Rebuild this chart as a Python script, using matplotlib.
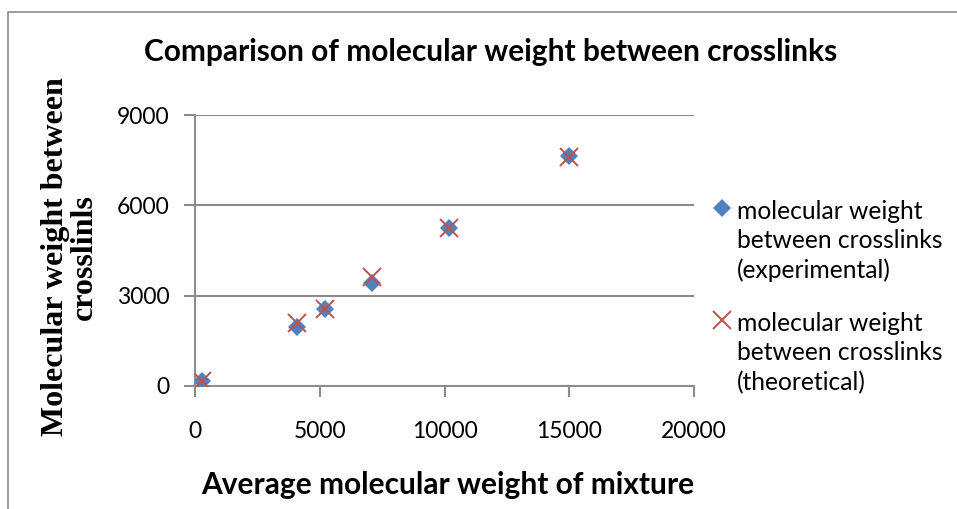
import matplotlib.pyplot as plt
from matplotlib.lines import Line2D
from matplotlib.patches import Rectangle

plt.rcParams['font.family'] = ['Lato', 'DejaVu Sans']

# average molecular weight of mixture vs Mc
mix_mw = [300, 4100, 5200, 7100, 10200, 15000]
mc_exp = [170, 1970, 2550, 3430, 5240, 7640]
mc_theo = [170, 2080, 2550, 3630, 5240, 7590]

exp_label = 'molecular weight\nbetween crosslinks\n(experimental)'
theo_label = 'molecular weight\nbetween crosslinks\n(theoretical)'

blue = '#4F81BD'
red = '#C0504D'
grey = '#8C8C8C'

W, H = 957, 509
fig = plt.figure(figsize=(W / 100, H / 100), dpi=100)
ax = fig.add_axes([195 / W, 1 - 386 / H, (694 - 195) / W, (386 - 115) / H])

diamond = dict(marker='D', markersize=9.5, color=blue, markeredgewidth=0)
cross = dict(marker='x', markersize=13, color=red, markeredgewidth=1.4)

ax.plot(mix_mw, mc_exp, linestyle='none', zorder=3, **diamond)
ax.plot(mix_mw, mc_theo, linestyle='none', zorder=4, **cross)

ax.set_xlim(0, 20000)
ax.set_ylim(0, 9000)
ax.set_xticks([0, 5000, 10000, 15000, 20000])
ax.set_yticks([0, 3000, 6000, 9000])
ax.yaxis.grid(True, color=grey, linewidth=1.5)
ax.set_axisbelow(True)
for s in ['top', 'right']:
    ax.spines[s].set_visible(False)
for s in ['left', 'bottom']:
    ax.spines[s].set_color(grey)
    ax.spines[s].set_linewidth(1.5)
ax.tick_params(axis='both', direction='out', length=8, width=1.5, color=grey,
               labelsize=16.5)
ax.tick_params(axis='y', pad=10.5)
ax.tick_params(axis='x', pad=17)

fig.text(491 / W, 1 - 52 / H, 'Comparison of molecular weight between crosslinks',
         ha='center', va='center', fontsize=21.5, fontweight='bold')
fig.text(448 / W, 1 - 485 / H, 'Average molecular weight of mixture',
         ha='center', va='center', fontsize=21.5, fontweight='bold')
fig.text(70 / W, 1 - 257 / H, 'Molecular weight between\ncrosslinls',
         ha='center', va='center', rotation=90, fontsize=23, fontweight='bold',
         family='Liberation Serif', linespacing=1.0)

# legend drawn by hand so the marker sits on the first text line
for y0, lab, kw in [(208, exp_label, diamond), (320, theo_label, cross)]:
    fig.add_artist(Line2D([722 / W], [1 - y0 / H], linestyle='none',
                          transform=fig.transFigure, **kw))
    fig.text(737 / W, 1 - (y0 + 33) / H, lab, ha='left', va='center',
             fontsize=17.7, linespacing=1.34)

# chart frame
fig.add_artist(Rectangle((8 / W, -0.2), 1.2, 1 - 12 / H + 0.2, fill=False,
                         edgecolor=grey, linewidth=1.2, transform=fig.transFigure))

fig.savefig('out.png', dpi=100)
